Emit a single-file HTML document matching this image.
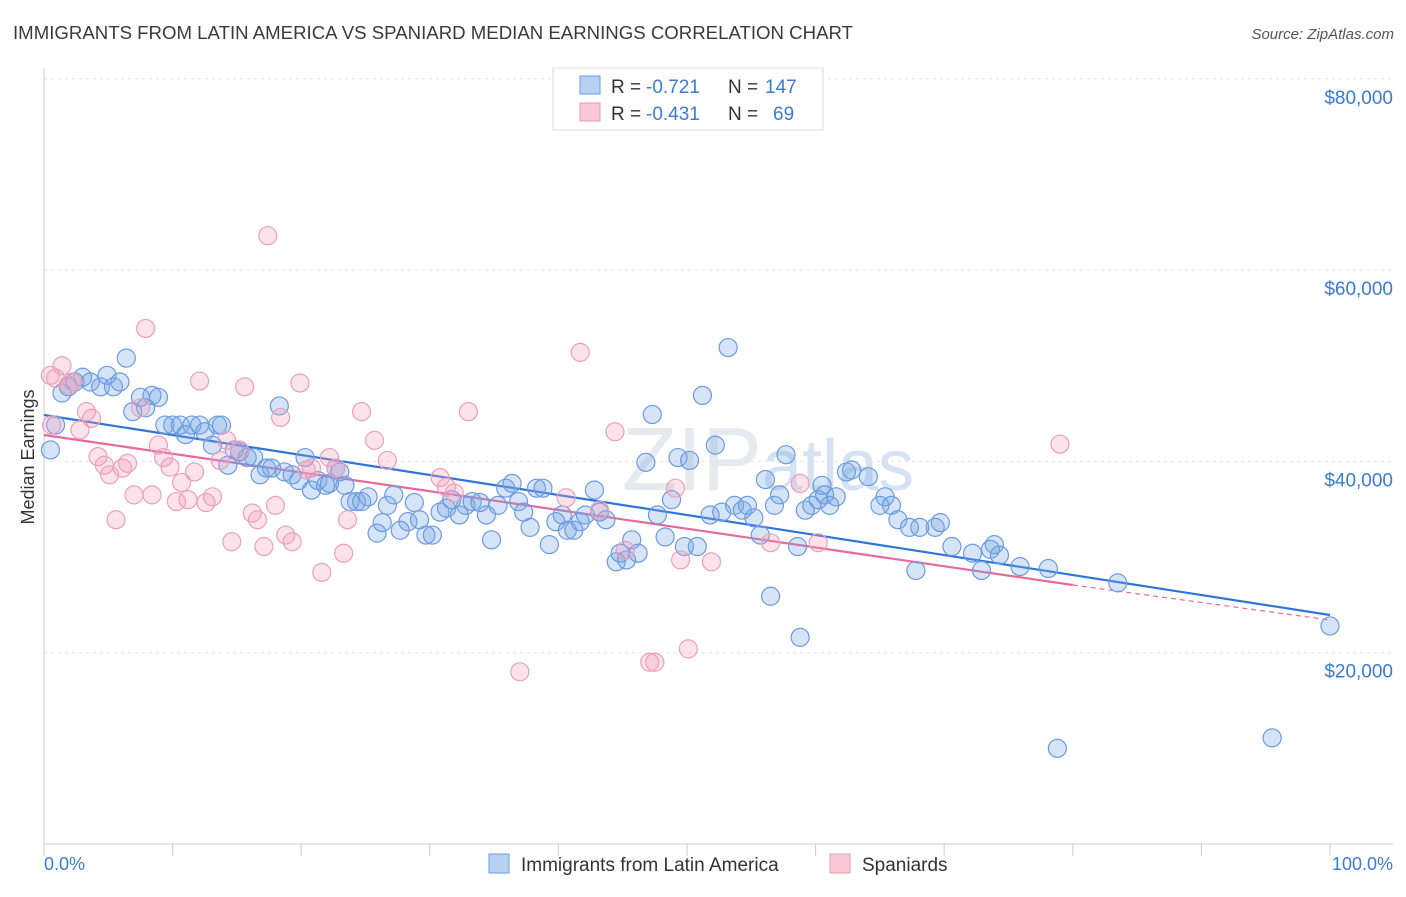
<!DOCTYPE html>
<html><head><meta charset="utf-8"><style>
body{margin:0;background:#fff;font-family:"Liberation Sans",sans-serif;}
svg text{font-family:"Liberation Sans",sans-serif;}
</style></head><body>
<svg id="chart" width="1406" height="892" viewBox="0 0 1406 892" xmlns="http://www.w3.org/2000/svg">
<text x="13" y="39" font-size="18" fill="#3a3a3a" textLength="840" lengthAdjust="spacingAndGlyphs">IMMIGRANTS FROM LATIN AMERICA VS SPANIARD MEDIAN EARNINGS CORRELATION CHART</text>
<text x="1394" y="39" font-size="15" fill="#555" text-anchor="end" font-style="italic">Source: ZipAtlas.com</text>
<text x="622" y="490" font-size="90" fill="#e6e9ee" font-family="Liberation Serif">ZIP<tspan fill="#d5e2f3" font-family="Liberation Sans" font-size="72">atlas</tspan></text>
<g id="grid"></g>
<g id="axes"></g>
<g id="trends"></g>
<g id="points"></g>
<text transform="translate(34,457) rotate(-90)" font-size="18" fill="#333" text-anchor="middle">Median Earnings</text>
<text x="44" y="870" font-size="18" fill="#3a7bd5">0.0%</text>
<text x="1393" y="870" font-size="18" fill="#3a7bd5" text-anchor="end">100.0%</text>
<g>
<rect x="553" y="68" width="270" height="62" fill="#fff" stroke="#ddd"/>
<rect x="580" y="76" width="20" height="18" fill="#b8d1f3" stroke="#6a9ee0"/>
<rect x="580" y="103" width="20" height="18" fill="#f9c9d7" stroke="#eb9ab5"/>
<text x="611" y="93" font-size="19" fill="#333">R =</text>
<text x="646" y="93" font-size="19" fill="#3a7bd5">-0.721</text>
<text x="728" y="93" font-size="19" fill="#333">N =</text>
<text x="765" y="93" font-size="19" fill="#3a7bd5">147</text>
<text x="611" y="120" font-size="19" fill="#333">R =</text>
<text x="646" y="120" font-size="19" fill="#3a7bd5">-0.431</text>
<text x="728" y="120" font-size="19" fill="#333">N =</text>
<text x="773" y="120" font-size="19" fill="#3a7bd5">69</text>
</g>
<g>
<rect x="489" y="854" width="20" height="19" fill="#b8d1f3" stroke="#6a9ee0"/>
<text x="521" y="871" font-size="19" fill="#333">Immigrants from Latin America</text>
<rect x="830" y="854" width="20" height="19" fill="#f9c9d7" stroke="#eb9ab5"/>
<text x="862" y="871" font-size="19" fill="#333">Spaniards</text>
</g>
</svg>
<script>
const yTicks=[20000,40000,60000,80000];
const yTickLabels=["$20,000","$40,000","$60,000","$80,000"];
const xTicks=[0,10,20,30,40,50,60,70,80,90,100];
const blueX=[0.5,0.9,1.4,1.9,2.4,3.0,3.6,4.4,4.9,5.4,5.9,6.4,6.9,7.5,7.9,8.4,8.9,9.4,10.0,10.6,11.0,11.5,12.1,12.5,13.1,13.5,13.8,14.3,14.8,15.2,15.8,16.3,16.8,17.3,17.7,18.3,18.7,19.3,19.8,20.3,20.8,21.3,21.9,22.2,22.7,23.0,23.4,23.8,24.3,24.7,25.2,25.9,26.3,26.7,27.2,27.7,28.3,28.8,29.2,29.7,30.2,30.8,31.3,31.7,32.3,32.8,33.3,33.9,34.4,34.8,35.3,35.9,36.4,36.9,37.3,37.8,38.3,38.8,39.3,39.8,40.3,40.7,41.2,41.7,42.1,42.8,43.2,43.7,44.5,44.8,45.3,45.7,46.2,46.8,47.3,47.7,48.3,48.8,49.3,49.8,50.2,50.8,51.2,51.8,52.2,52.7,53.2,53.7,54.3,54.7,55.2,55.7,56.1,56.5,56.8,57.2,57.7,58.6,58.8,59.2,59.7,60.2,60.5,60.7,61.1,61.6,62.4,62.8,64.1,65.0,65.4,65.9,66.4,67.3,67.8,68.1,69.3,69.7,70.6,72.2,72.9,73.6,73.9,74.3,75.9,78.1,78.8,83.5,95.5,100.0];
const blueY=[41200,43800,47150,47800,48300,48800,48300,47800,49000,47800,48300,50800,45200,46700,45600,46900,46700,43800,43800,43800,42800,43800,43800,43100,41700,43800,43800,39600,41200,41000,40400,40400,38600,39300,39300,45800,38900,38600,38000,40400,37000,38000,37500,37700,39300,38900,37500,35800,35800,35800,36300,32500,33600,35400,36500,32800,33700,35700,33900,32300,32300,34700,35100,36000,34400,35400,35800,35700,34400,31800,35400,37200,37700,35800,34700,33100,37200,37200,31300,33700,34400,32800,32800,33700,34400,37000,34700,33900,29500,30400,29700,31800,30400,39900,44900,34400,32100,36000,40400,31100,40100,31100,46900,34400,41700,34700,51900,35400,34900,35400,34100,32300,38100,25900,35400,36500,40700,31100,21600,34900,35400,36000,37500,36500,35400,36300,38900,39100,38400,35400,36300,35400,33900,33100,28600,33100,33100,33600,31100,30400,28600,30800,31300,30200,29000,28800,10000,27300,11100,22800];
const pinkX=[0.6,0.9,1.4,1.9,2.2,2.8,3.3,3.7,4.2,4.7,5.1,5.6,6.1,6.5,7.0,7.5,7.9,8.4,8.9,9.3,9.8,10.3,10.7,11.2,11.7,12.1,12.6,13.1,13.7,14.2,14.6,15.2,15.6,16.2,16.6,17.1,17.4,18.0,18.4,18.8,19.3,19.9,20.4,20.8,21.6,22.2,22.7,23.3,23.6,24.7,25.7,26.7,30.8,31.3,31.9,33.0,37.0,40.6,41.7,43.2,44.4,45.2,47.1,47.5,49.1,49.5,50.1,51.9,56.5,58.8,60.2,79.0,0.5];
const pinkY=[43800,48700,50000,48000,48300,43300,45200,44500,40500,39600,38600,33900,39300,39800,36500,45600,53900,36500,41700,40400,39400,35800,37800,36000,38900,48400,35700,36300,40100,42200,31600,41200,47800,34600,33900,31100,63600,35400,44600,32300,31600,48200,39100,39300,28400,40400,39300,30400,33900,45200,42200,40100,38300,37300,36700,45200,18000,36200,51400,34900,43100,30700,19000,19000,37200,29700,20400,29500,31500,37700,31500,41800,49000];
const blueTrendX=[0,100];
const blueTrendY=[44850,23940];
const pinkTrendX=[0,80,100];
const pinkTrendY=[42760,27080,23420];

const NS="http://www.w3.org/2000/svg";
const X0=44,X1=1330,YB=844,YPX=191.3/20000;
function sx(v){return X0+(X1-X0)*v/100;}
function sy(v){return YB-v*YPX;}
function mk(tag,attrs,parent){const e=document.createElementNS(NS,tag);for(const k in attrs)e.setAttribute(k,attrs[k]);parent.appendChild(e);return e;}
const grid=document.getElementById('grid'),axes=document.getElementById('axes'),tr=document.getElementById('trends'),pts=document.getElementById('points');
yTicks.forEach((t,i)=>{
  const l=mk('line',{x1:44,x2:1393,y1:sy(t),y2:sy(t),stroke:'#e2e2e2','stroke-dasharray':'3,4'},grid);
  
  
  const tx=mk('text',{x:1393,y:sy(t)+25,'font-size':19,fill:'#3a7bd5','text-anchor':'end'},grid);
  tx.textContent=yTickLabels[i];
  
  
});
const la=mk('line',{x1:44,x2:44,y1:68,y2:YB,stroke:'#ccc'},axes);


const lb=mk('line',{x1:44,x2:1393,y1:YB,y2:YB,stroke:'#ccc'},axes);


xTicks.forEach(t=>{
  const k=mk('line',{x1:sx(t),x2:sx(t),y1:YB,y2:YB+12,stroke:'#ccc'},axes);
  
  
});
function dot(x,y,fill,stroke,name){
  const c=mk('circle',{cx:sx(x),cy:sy(y),r:9,fill:fill,stroke:stroke,'stroke-width':1.2},pts);
  
  
}
blueX.forEach((x,i)=>dot(x,blueY[i],'rgba(120,165,230,0.3)','#6b9be0','blue-point'));
pinkX.forEach((x,i)=>dot(x,pinkY[i],'rgba(242,160,188,0.3)','#eba0ba','pink-point'));
const bt=mk('line',{x1:sx(blueTrendX[0]),y1:sy(blueTrendY[0]),x2:sx(blueTrendX[1]),y2:sy(blueTrendY[1]),stroke:'#2f74d8','stroke-width':2.2},tr);


const pt=mk('line',{x1:sx(pinkTrendX[0]),y1:sy(pinkTrendY[0]),x2:sx(pinkTrendX[1]),y2:sy(pinkTrendY[1]),stroke:'#e8699a','stroke-width':2.2},tr);


const pd=mk('line',{x1:sx(pinkTrendX[1]),y1:sy(pinkTrendY[1]),x2:sx(pinkTrendX[2]),y2:sy(pinkTrendY[2]),stroke:'#e8699a','stroke-width':1.2,'stroke-dasharray':'5,4'},tr);


</script>
</body></html>
